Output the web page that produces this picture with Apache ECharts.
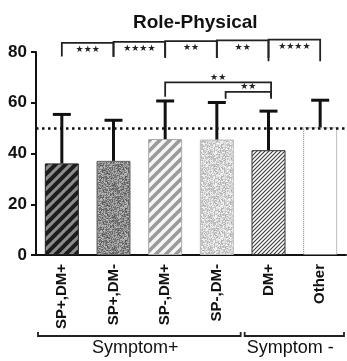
<!DOCTYPE html>
<html><head><meta charset="utf-8">
<script src="https://cdn.jsdelivr.net/npm/echarts@6/dist/echarts.min.js"></script>
<style>html,body{margin:0;padding:0;background:#fff}#c{width:347px;height:361px}</style>
</head><body><div id="c"></div>
<script>
var categories = ['SP+,DM+', 'SP+,DM-', 'SP-,DM+', 'SP-,DM-', 'DM+', 'Other'];
var means = [36.1, 37.1, 45.7, 45.5, 41.3, 50.3];
var upper = [55.4, 53.1, 60.7, 60.1, 56.7, 61.0];
var refLine = 50;
var yTicks = [0, 20, 40, 60, 80];
// significance brackets: [fromCategory, toCategory, lineValue, tickBottomValue]
var topBrackets = [[0, 1, 83.6, 78.2], [1, 2, 84.0, 78.0], [2, 3, 84.3, 77.6], [3, 4, 84.6, 77.6], [4, 5, 84.9, 76.4]];
var topLabels = ['★★★', '★★★★', '★★', '★★', '★★★★'];
var midBrackets = [[2, 4.05, 68.0, 62.4], [3.17, 4.05, 64.3, 61.6]];
var midLabels = ['★★', '★★'];
var groups = [[0, 3, 'Symptom+'], [4, 5, 'Symptom -']];

function hash(x, y) { var h = Math.sin(x * 127.1 + y * 311.7) * 43758.5453; return h - Math.floor(h); }
function stripes(s, bg, fg, w) {
  var c = document.createElement('canvas'); c.width = s; c.height = s;
  var g = c.getContext('2d'); g.fillStyle = bg; g.fillRect(0, 0, s, s);
  g.strokeStyle = fg; g.lineWidth = w;
  for (var k = -1; k <= 1; k++) { g.beginPath(); g.moveTo(k * s - 1, s + 1); g.lineTo(k * s + s + 1, -1); g.stroke(); }
  return { image: c, repeat: 'repeat' };
}
function noise(s, base, amp) {
  var c = document.createElement('canvas'); c.width = s; c.height = s;
  var g = c.getContext('2d'); var im = g.createImageData(s, s);
  for (var y = 0; y < s; y++) for (var x = 0; x < s; x++) {
    var v = Math.max(0, Math.min(255, Math.round(base + (hash(x, y) - 0.5) * 2 * amp)));
    var i = (y * s + x) * 4; im.data[i] = im.data[i + 1] = im.data[i + 2] = v; im.data[i + 3] = 255;
  }
  g.putImageData(im, 0, 0);
  return { image: c, repeat: 'repeat' };
}
var fills = [
  { color: stripes(10, '#8c8c8c', '#1c1c1c', 4), borderColor: '#222', borderWidth: 1 },
  { color: noise(32, 138, 55), borderColor: '#666', borderWidth: 1 },
  { color: stripes(10, '#f6f6f6', '#9a9a9a', 3.5), borderColor: '#aaa', borderWidth: 1 },
  { color: noise(32, 212, 40), borderColor: '#bbb', borderWidth: 1 },
  { color: stripes(4, '#ffffff', '#3a3a3a', 1.1), borderColor: '#333', borderWidth: 1 },
  { color: '#ffffff', borderColor: '#777', borderWidth: 1, borderType: 'dotted' }
];

var chart = echarts.init(document.getElementById('c'), null, { renderer: 'canvas' });
var barData = means.map(function (v, i) { return { value: v, itemStyle: fills[i] }; });
var errData = means.map(function (v, i) { return [i, v, upper[i]]; });

function bandW(api) { return api.coord([1, 0])[0] - api.coord([0, 0])[0]; }
function xAt(api, pos) { var i = Math.floor(pos); return api.coord([i, 0])[0] + (pos - i) * bandW(api); }

function bracketRender(list, labels, fontSize, textDy) {
  return function (params, api) {
    var b = list[params.dataIndex];
    var x1 = xAt(api, b[0]), x2 = xAt(api, b[1]);
    var yl = api.coord([0, b[2]])[1], yb = api.coord([0, b[3]])[1];
    var st = { stroke: '#222', lineWidth: 1.8, fill: null };
    return { type: 'group', children: [
      { type: 'polyline', shape: { points: [[x1, yb], [x1, yl], [x2, yl], [x2, yb]] }, style: st },
      { type: 'text', x: (x1 + x2) / 2, y: yl + textDy, style: { text: labels[params.dataIndex], fontSize: fontSize, fill: '#222', align: 'center', verticalAlign: 'middle', fontFamily: 'DejaVu Sans' } }
    ] };
  };
}

chart.setOption({
  animation: false,
  title: { text: 'Role-Physical', left: 128, top: 8, textStyle: { fontFamily: 'Liberation Sans, Arial', fontWeight: 'bold', fontSize: 19, color: '#111' } },
  grid: { left: 36, right: 1, top: 52, bottom: 106, containLabel: false },
  xAxis: {
    type: 'category', data: categories,
    axisLine: { lineStyle: { color: '#111', width: 2 } },
    axisTick: { alignWithLabel: true, length: 6, lineStyle: { color: '#111', width: 2 } },
    axisLabel: { rotate: 90, margin: 9, fontSize: 15, fontWeight: 'bold', color: '#111', fontFamily: 'Liberation Sans, Arial', interval: 0 }
  },
  yAxis: {
    type: 'value', min: yTicks[0], max: yTicks[yTicks.length - 1], interval: 20,
    splitLine: { show: false },
    axisLine: { show: true, lineStyle: { color: '#111', width: 2 } },
    axisTick: { show: true, length: 5, lineStyle: { color: '#111', width: 2 } },
    axisLabel: { margin: 9, fontSize: 17, fontWeight: 'bold', color: '#111', fontFamily: 'Liberation Sans, Arial' }
  },
  series: [
    { type: 'bar', data: barData, barWidth: 34, z: 2,
      markLine: { silent: true, symbol: 'none', label: { show: false },
        lineStyle: { color: '#111', type: [2.5, 3.5], width: 2.5 }, data: [{ yAxis: refLine }] } },
    { type: 'custom', z: 3, clip: false, data: errData,
      renderItem: function (params, api) {
        var b = api.coord([api.value(0), api.value(1)]);
        var t = api.coord([api.value(0), api.value(2)]);
        var st = { stroke: '#111', lineWidth: 3 };
        return { type: 'group', children: [
          { type: 'line', shape: { x1: b[0], y1: b[1], x2: t[0], y2: t[1] }, style: st },
          { type: 'line', shape: { x1: t[0] - 9, y1: t[1], x2: t[0] + 9, y2: t[1] }, style: st }
        ] };
      } },
    { type: 'custom', z: 4, clip: false, data: topBrackets, renderItem: bracketRender(topBrackets, topLabels, 9, 7) },
    { type: 'custom', z: 4, clip: false, data: midBrackets, renderItem: bracketRender(midBrackets, midLabels, 9, -5) },
    { type: 'custom', z: 4, clip: false, data: groups.map(function (g) { return [g[0], g[1]]; }),
      renderItem: function (params, api) {
        var g = groups[params.dataIndex];
        var bw = bandW(api);
        var x1 = api.coord([g[0], 0])[0] - bw / 2 + 2, x2 = api.coord([g[1], 0])[0] + bw / 2 - 2;
        var y = api.coord([0, 0])[1] + 81;
        return { type: 'group', children: [
          { type: 'polyline', shape: { points: [[x1, y - 4], [x1, y], [x2, y], [x2, y - 4]] }, style: { stroke: '#222', lineWidth: 1.8, fill: null } },
          { type: 'text', x: (x1 + x2) / 2 - 4, y: y + 12, style: { text: g[2], fontSize: 18, fill: '#111', align: 'center', verticalAlign: 'middle', fontFamily: 'Liberation Sans, Arial' } }
        ] };
      } }
  ]
});
</script></body></html>
